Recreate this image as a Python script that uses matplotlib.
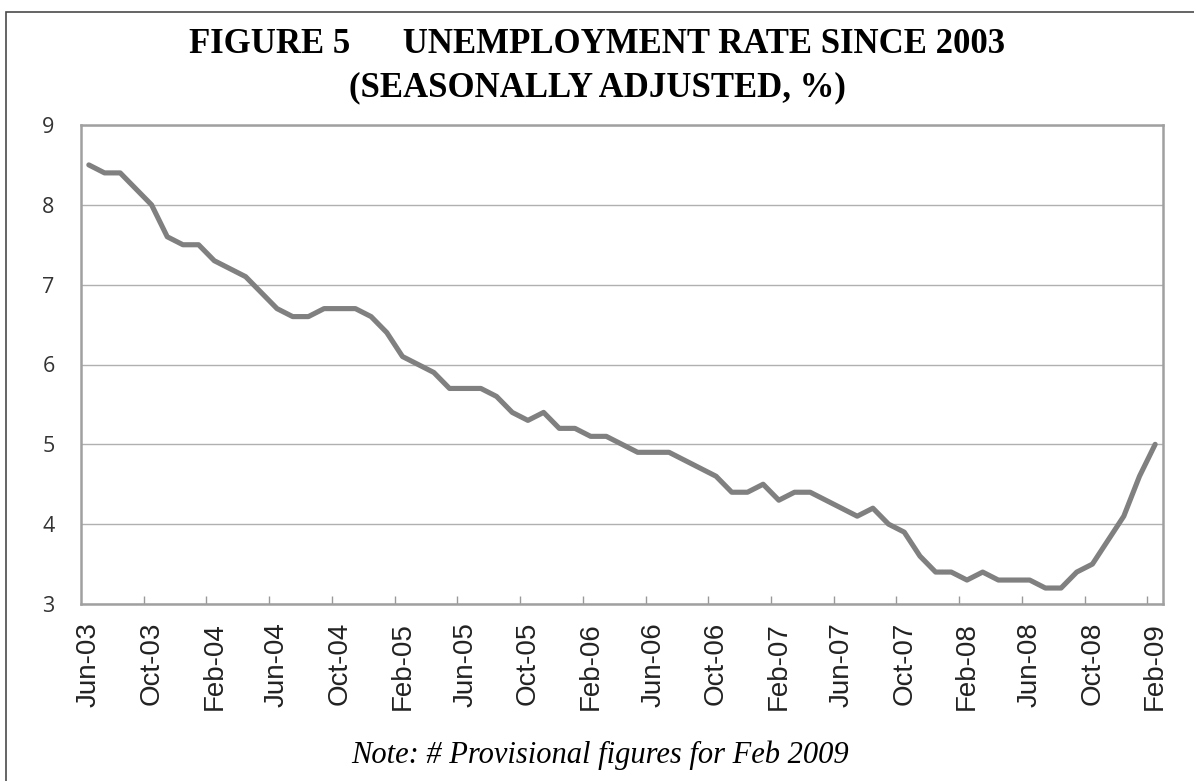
import numpy as np
import matplotlib.pyplot as plt
from matplotlib.patches import Rectangle
from matplotlib.ticker import FixedLocator

# monthly unemployment rate, Jun 2003 - Feb 2009 (seasonally adjusted, %)
months = (
    ["Jun-03", "Jul-03", "Aug-03", "Sep-03", "Oct-03", "Nov-03", "Dec-03"]
    + [m + "-04" for m in ["Jan", "Feb", "Mar", "Apr", "May", "Jun", "Jul", "Aug", "Sep", "Oct", "Nov", "Dec"]]
    + [m + "-05" for m in ["Jan", "Feb", "Mar", "Apr", "May", "Jun", "Jul", "Aug", "Sep", "Oct", "Nov", "Dec"]]
    + [m + "-06" for m in ["Jan", "Feb", "Mar", "Apr", "May", "Jun", "Jul", "Aug", "Sep", "Oct", "Nov", "Dec"]]
    + [m + "-07" for m in ["Jan", "Feb", "Mar", "Apr", "May", "Jun", "Jul", "Aug", "Sep", "Oct", "Nov", "Dec"]]
    + [m + "-08" for m in ["Jan", "Feb", "Mar", "Apr", "May", "Jun", "Jul", "Aug", "Sep", "Oct", "Nov", "Dec"]]
    + ["Jan-09", "Feb-09"]
)

rate_2003 = [8.5, 8.4, 8.4, 8.2, 8.0, 7.6, 7.5]
rate_2004 = [7.5, 7.3, 7.2, 7.1, 6.9, 6.7, 6.6, 6.6, 6.7, 6.7, 6.7, 6.6]
rate_2005 = [6.4, 6.1, 6.0, 5.9, 5.7, 5.7, 5.7, 5.6, 5.4, 5.3, 5.4, 5.2]
rate_2006 = [5.2, 5.1, 5.1, 5.0, 4.9, 4.9, 4.9, 4.8, 4.7, 4.6, 4.4, 4.4]
rate_2007 = [4.5, 4.3, 4.4, 4.4, 4.3, 4.2, 4.1, 4.2, 4.0, 3.9, 3.6, 3.4]
rate_2008 = [3.4, 3.3, 3.4, 3.3, 3.3, 3.3, 3.2, 3.2, 3.4, 3.5, 3.8, 4.1]
rate_2009 = [4.6, 5.0]

rate = rate_2003 + rate_2004 + rate_2005 + rate_2006 + rate_2007 + rate_2008 + rate_2009
x = np.arange(len(months))

W, H = 1194, 781
fig = plt.figure(figsize=(W / 100, H / 100), dpi=100)
ax = fig.add_axes([81 / W, 1 - 604 / H, (1163 - 81) / W, (604 - 125) / H])

ax.plot(x, rate, color="#808080", lw=3.7, solid_joinstyle="round", solid_capstyle="round", zorder=3)

ax.set_xlim(-0.5, len(months) - 0.5)
ax.set_ylim(3, 9)
ax.set_yticks(range(3, 10))
ax.yaxis.grid(True, color="#b0b0b0", lw=1.0)
ax.set_axisbelow(True)

# labels every 4th month, tick marks between categories
ax.set_xticks(x[::4])
ax.set_xticklabels(months[::4], rotation=90, fontsize=20, family="Liberation Sans", color="#222222")
ax.xaxis.set_minor_locator(FixedLocator(np.arange(3.5, len(months) - 1, 4)))
ax.tick_params(axis="x", which="major", length=0, pad=13)
ax.tick_params(axis="x", which="minor", length=6, width=1, direction="in", color="#999999")
ax.tick_params(axis="y", length=0, pad=19, labelsize=15.5, labelcolor="#333333")
for lab in ax.get_yticklabels():
    lab.set_family("Open Sans")

for s in ax.spines.values():
    s.set_color("#a0a0a0")
    s.set_linewidth(1.8)

# page frame around the figure
fig.add_artist(Rectangle((6 / W, -0.1), 2, 0.1 + 1 - 12 / H, transform=fig.transFigure,
                         fill=False, edgecolor="#4a4a4a", lw=1.2))

fig.text(597 / W, 1 - 53 / H, "FIGURE 5      UNEMPLOYMENT RATE SINCE 2003", ha="center", va="baseline",
         fontsize=25, fontweight="bold", family="Liberation Serif")
fig.text(597 / W, 1 - 96 / H, "(SEASONALLY ADJUSTED, %)", ha="center", va="baseline",
         fontsize=25, fontweight="bold", family="Liberation Serif")
fig.text(600 / W, 1 - 763 / H, "Note: # Provisional figures for Feb 2009", ha="center", va="baseline",
         fontsize=22, style="italic", family="Liberation Serif")

fig.savefig("out.png", dpi=100)
